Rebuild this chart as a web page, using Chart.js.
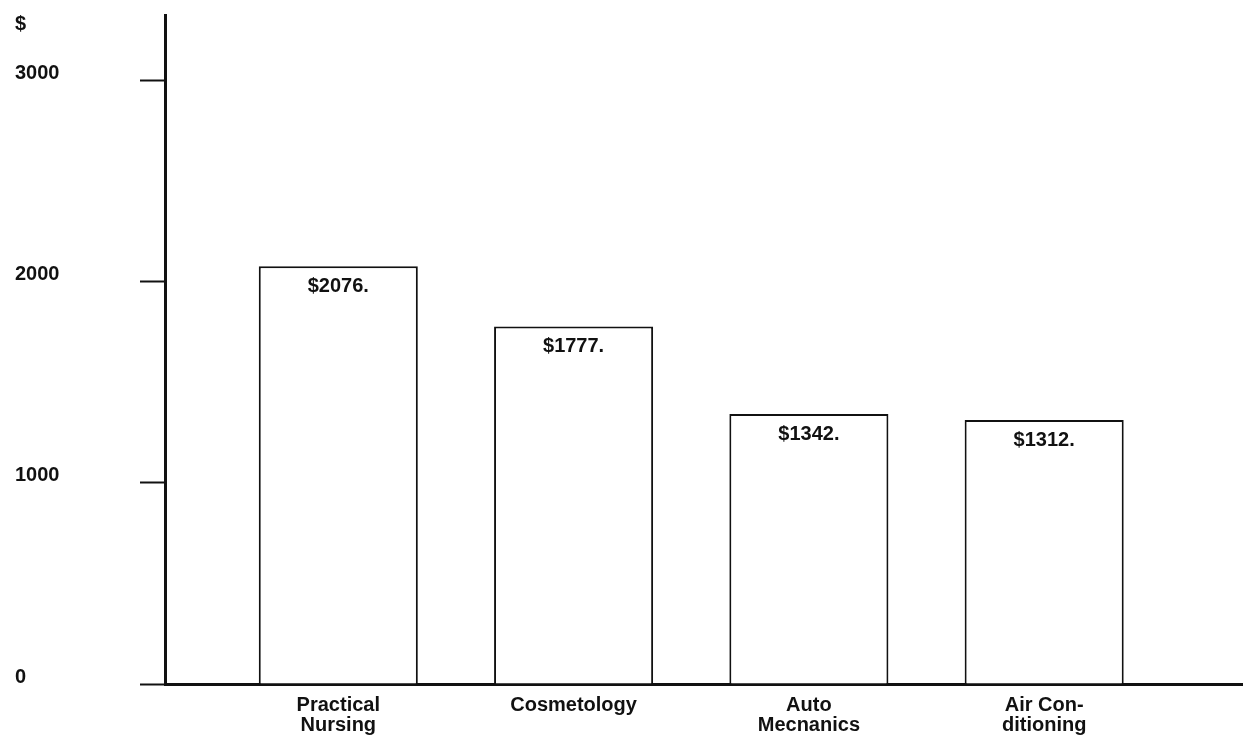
<!DOCTYPE html>
<html>
<head>
<meta charset="utf-8">
<title>Average cost by program</title>
<script src="https://cdn.jsdelivr.net/npm/chart.js@4/dist/chart.umd.min.js"></script>
<style>
  html, body { margin: 0; padding: 0; background: #ffffff; }
  #wrap { position: relative; width: 1243px; height: 748px; }
</style>
</head>
<body>
<div id="wrap"><canvas id="chart"></canvas></div>
<script>
// Program names (split into printed lines) and their average cost in dollars
const programs = [
  ['Practical', 'Nursing'],
  ['Cosmetology'],
  ['Auto', 'Mecnanics'],
  ['Air Con-', 'ditioning']
];
const costs = [2076, 1777, 1342, 1312];
const costTicks = [0, 1000, 2000, 3000];
const unitLabel = '$';

const FONT = '"Liberation Sans", Arial, Helvetica, sans-serif';
const INK = '#111111';

// Writes "$nnnn." just inside the top of each bar
const valueLabels = {
  id: 'valueLabels',
  afterDatasetsDraw(chart) {
    const ctx = chart.ctx;
    const meta = chart.getDatasetMeta(0);
    ctx.save();
    ctx.font = 'bold 20px ' + FONT;
    ctx.fillStyle = INK;
    ctx.textAlign = 'center';
    ctx.textBaseline = 'middle';
    meta.data.forEach((bar, i) => {
      ctx.fillText('$' + costs[i] + '.', bar.x, bar.y + 20);
    });
    ctx.restore();
  }
};

// Unit marker above the value axis
const unitMarker = {
  id: 'unitMarker',
  afterDraw(chart) {
    const y = chart.scales.y;
    const ctx = chart.ctx;
    ctx.save();
    ctx.font = 'bold 20px ' + FONT;
    ctx.fillStyle = INK;
    ctx.textAlign = 'left';
    ctx.textBaseline = 'middle';
    ctx.fillText(unitLabel, y.left, chart.chartArea.top + 9);
    ctx.restore();
  }
};

new Chart(document.getElementById('chart'), {
  type: 'bar',
  data: {
    datasets: [{
      data: costs.map((v, i) => ({ x: i, y: v })),
      backgroundColor: '#ffffff',
      borderColor: INK,
      borderWidth: 2,
      barPercentage: 0.676,
      categoryPercentage: 1
    }]
  },
  options: {
    responsive: true,
    maintainAspectRatio: false,
    animation: false,
    layout: { padding: { left: 15, top: 13, right: 0, bottom: 0 } },
    plugins: {
      legend: { display: false },
      tooltip: { enabled: false }
    },
    scales: {
      x: {
        type: 'linear',
        offset: false,
        min: -0.7365,
        max: 3.845,
        afterBuildTicks: (scale) => {
          scale.ticks = programs.map((_, i) => ({ value: i }));
        },
        afterFit: (scale) => { scale.height = 64; },
        grid: { display: false, drawTicks: false, offset: false },
        border: { display: true, color: INK, width: 3 },
        ticks: {
          autoSkip: false,
          maxRotation: 0,
          padding: 11,
          color: INK,
          font: { family: FONT, size: 20, weight: 'bold', lineHeight: 1.0 },
          callback: (v) => programs[v]
        }
      },
      y: {
        min: 0,
        max: 3325,
        afterBuildTicks: (scale) => {
          scale.ticks = costTicks.map(v => ({ value: v }));
        },
        afterFit: (scale) => { scale.width = 150; },
        grid: {
          drawOnChartArea: false,
          drawTicks: true,
          tickLength: 25,
          tickWidth: 2,
          tickColor: INK
        },
        border: { display: true, color: INK, width: 3 },
        ticks: {
          crossAlign: 'far',
          labelOffset: -7,
          color: INK,
          font: { family: FONT, size: 20, weight: 'bold' },
          callback: (v) => String(v)
        }
      }
    }
  },
  plugins: [valueLabels, unitMarker]
});
</script>
</body>
</html>
